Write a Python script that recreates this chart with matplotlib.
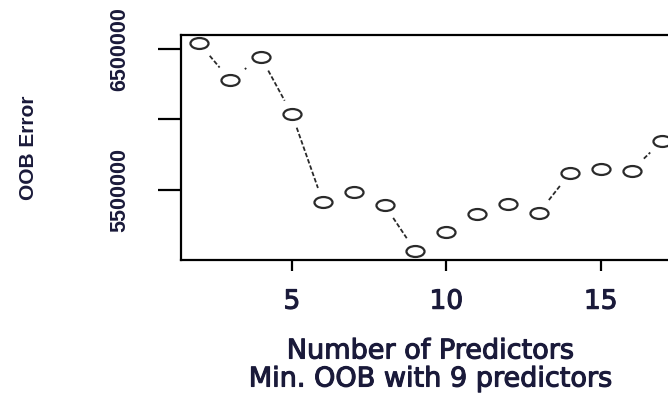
import numpy as np
import matplotlib
matplotlib.use("Agg")
import matplotlib.pyplot as plt
import matplotlib.patheffects as pe
from matplotlib.path import Path
from matplotlib.transforms import Affine2D

# ---- data ----
n_predictors = [2, 3, 4, 5, 6, 7, 8, 9, 10, 11, 12, 13, 14, 15, 16, 17]
oob_error = [6540000, 6280000, 6441000, 6039000, 5417000, 5484000, 5394000,
             5066000, 5200000, 5328000, 5399000, 5339000, 5618000, 5647000,
             5638000, 5850000]
x_ticks = [5, 10, 15]
x_tick_labels = ["5", "10", "15"]
y_ticks = [5500000, 6000000, 6500000]
y_tick_labels = ["5500000", "", "6500000"]
x_label = "Number of Predictors"
sub_label = "Min. OOB with 9 predictors"
y_label = "OOB Error"

W, H = 668, 394
fig = plt.figure(figsize=(W / 100, H / 100), dpi=100)
left_px, right_px, top_px, bot_px = 180.7, 681.0, 35.0, 259.5
ax = fig.add_axes([left_px / W, 1 - bot_px / H,
                   (right_px - left_px) / W, (bot_px - top_px) / H])
ax.set_xlim(1.4, 17.6)
ax.set_ylim(5007000, 6599000)

# ellipse marker (horizontally stretched look)
sx = 1.65
ell = Path.unit_circle().transformed(Affine2D().scale(sx, 1.0))
col = "#2a2a2a"
ax.plot(n_predictors, oob_error, linestyle="none", marker=ell, markersize=13,
        markerfacecolor="none", markeredgecolor=col, markeredgewidth=1.6)

# type="b" style segments with gaps around points
disp = ax.transData.transform(np.column_stack([n_predictors, oob_error]))
inv = ax.transData.inverted()
gap = 14.0
for (x0, y0), (x1, y1) in zip(disp[:-1], disp[1:]):
    dx = (x1 - x0) / sx
    dy = y1 - y0
    L = np.hypot(dx, dy)
    if L <= 2 * gap:
        continue
    f0, f1 = gap / L, 1 - gap / L
    pts = np.array([[x0 + (x1 - x0) * f0, y0 + (y1 - y0) * f0],
                    [x0 + (x1 - x0) * f1, y0 + (y1 - y0) * f1]])
    d = inv.transform(pts)
    ax.plot(d[:, 0], d[:, 1], color=col, lw=1.3, linestyle=(0, (2.5, 1.2)))

for s in ax.spines.values():
    s.set_linewidth(1.6)
    s.set_color("black")

tcol = "#1a1a3a"
thick = [pe.withStroke(linewidth=0.8, foreground=tcol)]
ax.set_xticks(x_ticks)
ax.set_xticklabels(x_tick_labels, fontsize=19, family=["DejaVu Sans"],
                   color=tcol, path_effects=thick)
ax.set_yticks(y_ticks)
ax.set_yticklabels(y_tick_labels, fontsize=15.5, family=["Liberation Sans"],
                   fontweight="bold", rotation=90, va="center", color=tcol)
ax.tick_params(axis="x", length=8, width=1.6, pad=13)
ax.tick_params(axis="y", length=16.5, width=1.6, pad=20)

ax.text(0.5, (bot_px - 351.5) / (bot_px - top_px), x_label, transform=ax.transAxes,
        ha="center", va="center", fontsize=19.5, family=["DejaVu Sans"],
        color=tcol, path_effects=thick)
ax.text(0.5, (bot_px - 379.5) / (bot_px - top_px), sub_label, transform=ax.transAxes,
        ha="center", va="center", fontsize=19.5, family=["DejaVu Sans"],
        color=tcol, path_effects=thick)
fig.text(29 / W, 1 - 147.5 / H, y_label, rotation=90, ha="center", va="center",
         fontsize=15, family=["Liberation Sans"], fontweight="bold",
         color=tcol)

fig.savefig("out.png", dpi=100)
